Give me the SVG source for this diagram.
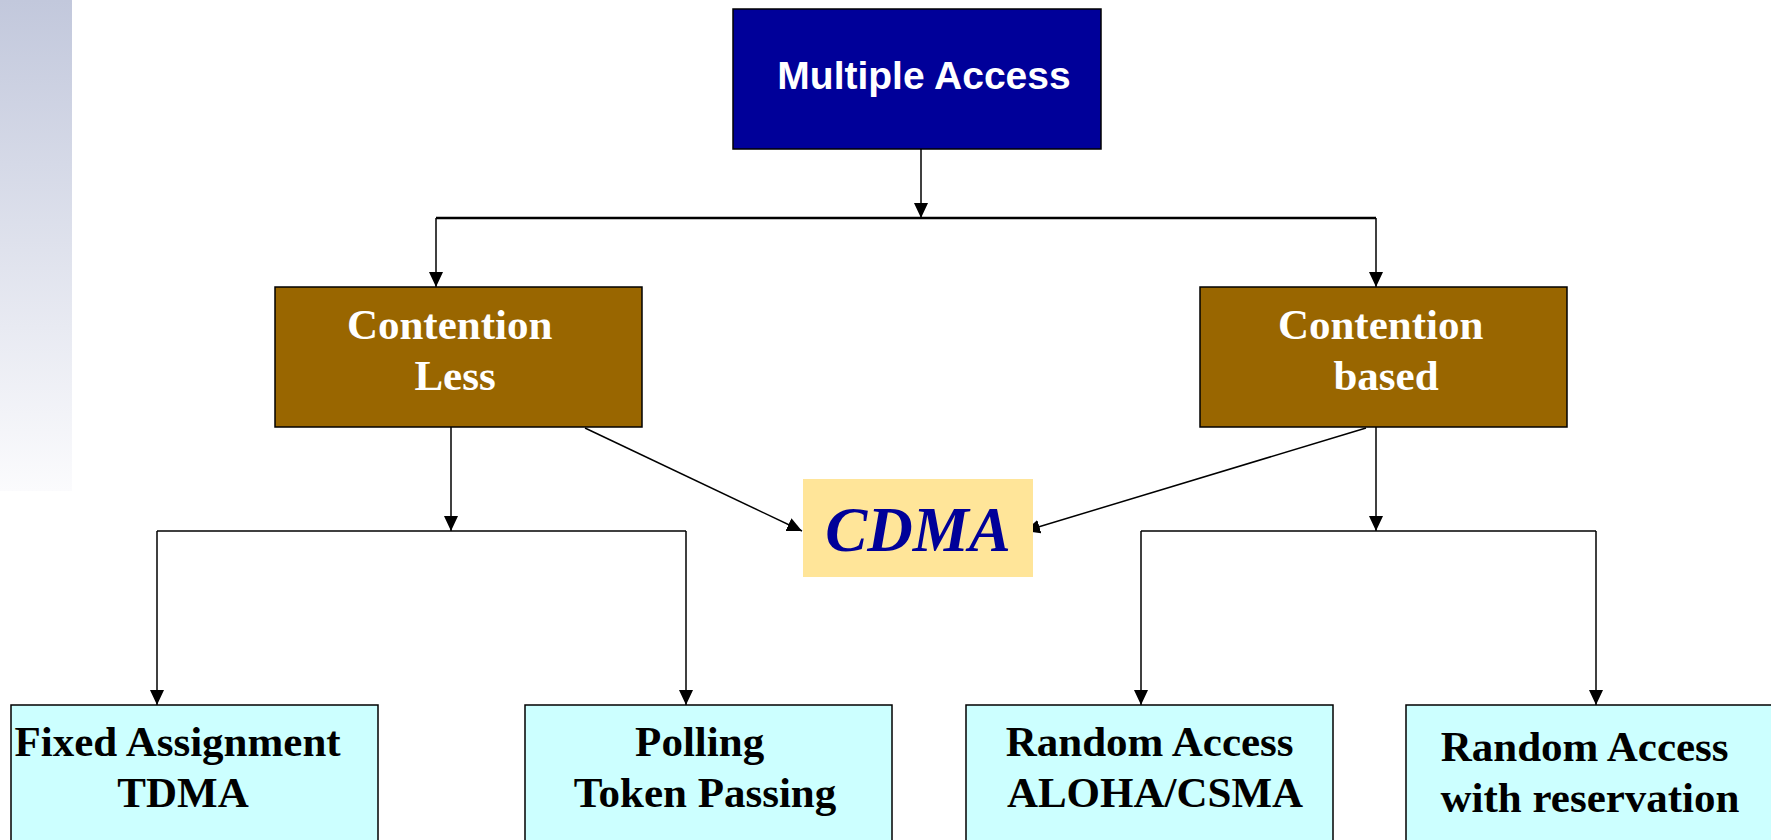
<svg xmlns="http://www.w3.org/2000/svg" width="1771" height="840" viewBox="0 0 1771 840">
  <style>
    .box { stroke: #000; stroke-width: 1.5; }
    .root { fill: #000099; }
    .mid { fill: #996600; }
    .leaf { fill: #ccffff; }
    .sans { font-family: "Liberation Sans", Arial, sans-serif; font-weight: bold; }
    .serif { font-family: "Liberation Serif", "Times New Roman", serif; font-weight: bold; }
    .wire { fill: none; stroke: #000; stroke-width: 1.5; }
    .arrow { marker-end: url(#head); }
  </style>
  <defs>
    <linearGradient id="band" x1="0" y1="0" x2="0" y2="1">
      <stop offset="0" stop-color="#c2c8dc"/>
      <stop offset="1" stop-color="#fbfbfd"/>
    </linearGradient>
    <marker id="head" markerUnits="userSpaceOnUse" markerWidth="16" markerHeight="15" refX="15" refY="7" orient="auto">
      <path d="M0,0 L15,7 L0,14 Z" fill="#000"/>
    </marker>
  </defs>

  <rect width="1771" height="840" fill="#fff"/>
  <rect x="0" y="0" width="72" height="491" fill="url(#band)"/>

  <!-- connectors -->
  <g id="connectors">
    <path class="wire arrow" d="M921,149 V218"/>
    <path class="wire" style="stroke-width:2.5" d="M436,218 H1376"/>
    <path class="wire arrow" d="M436,218 V287"/>
    <path class="wire arrow" d="M1376,218 V287"/>

    <path class="wire arrow" d="M451,427 V531"/>
    <path class="wire" d="M157,531 H686"/>
    <path class="wire arrow" d="M157,531 V705"/>
    <path class="wire arrow" d="M686,531 V705"/>
    <path class="wire arrow" d="M585,428 L802,531"/>

    <path class="wire arrow" d="M1376,427 V531"/>
    <path class="wire" d="M1141,531 H1596"/>
    <path class="wire arrow" d="M1141,531 V705"/>
    <path class="wire arrow" d="M1596,531 V705"/>
    <path class="wire arrow" d="M1366,428 L1025,531"/>
  </g>

  <g id="multiple-access">
    <rect class="box root" x="733" y="9" width="368" height="140"/>
    <text class="sans" x="924" y="89" font-size="39" fill="#fff" text-anchor="middle">Multiple Access</text>
  </g>

  <g id="contention-less">
    <rect class="box mid" x="275" y="287" width="367" height="140"/>
    <text class="serif" font-size="43" fill="#fff" text-anchor="middle">
      <tspan x="455" y="339">Contention</tspan>
      <tspan x="455" y="390">Less</tspan>
    </text>
  </g>

  <g id="contention-based">
    <rect class="box mid" x="1200" y="287" width="367" height="140"/>
    <text class="serif" font-size="43" fill="#fff" text-anchor="middle">
      <tspan x="1386" y="339">Contention</tspan>
      <tspan x="1386" y="390">based</tspan>
    </text>
  </g>

  <g id="cdma">
    <rect x="803" y="479" width="230" height="98" fill="#ffe599"/>
    <text class="serif" x="918" y="551" font-size="63" font-style="italic" fill="#000099" text-anchor="middle">CDMA</text>
  </g>

  <g id="fixed-assignment">
    <rect class="box leaf" x="11" y="705" width="367" height="150"/>
    <text class="serif" font-size="43" fill="#000" text-anchor="middle">
      <tspan x="183" y="756">Fixed Assignment</tspan>
      <tspan x="183" y="807">TDMA</tspan>
    </text>
  </g>

  <g id="polling">
    <rect class="box leaf" x="525" y="705" width="367" height="150"/>
    <text class="serif" font-size="43" fill="#000" text-anchor="middle">
      <tspan x="705" y="756">Polling</tspan>
      <tspan x="705" y="807">Token Passing</tspan>
    </text>
  </g>

  <g id="random-access">
    <rect class="box leaf" x="966" y="705" width="367" height="150"/>
    <text class="serif" font-size="43" fill="#000" text-anchor="middle">
      <tspan x="1155" y="756">Random Access</tspan>
      <tspan x="1155" y="807">ALOHA/CSMA</tspan>
    </text>
  </g>

  <g id="random-reservation">
    <rect class="box leaf" x="1406" y="705" width="367" height="150"/>
    <text class="serif" font-size="43" fill="#000" text-anchor="middle">
      <tspan x="1590" y="761">Random Access</tspan>
      <tspan x="1590" y="812">with reservation</tspan>
    </text>
  </g>
</svg>
